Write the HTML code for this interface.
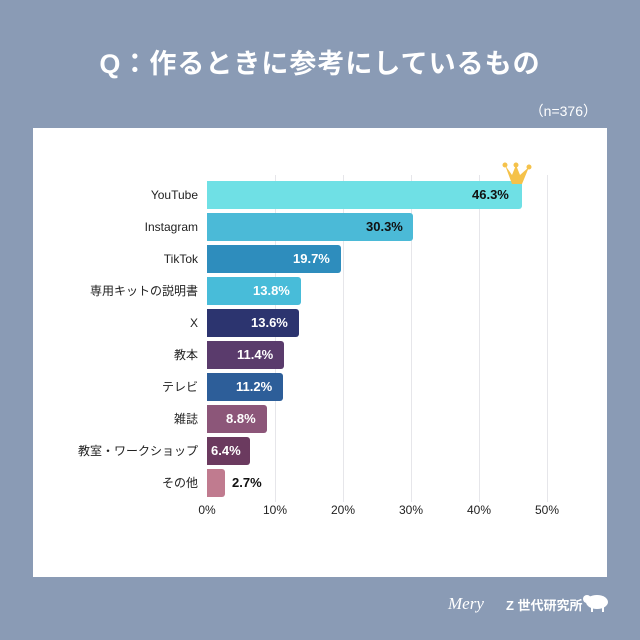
<!DOCTYPE html>
<html><head><meta charset="utf-8"><style>
body{margin:0;width:640px;height:640px;background:#8a9bb5;position:relative;overflow:hidden;font-family:"Liberation Sans","Noto Sans CJK JP",sans-serif}
.t{position:absolute;left:0;width:640px;text-align:center;top:42px;color:#fff;font-size:27px;font-weight:bold;letter-spacing:1px}
.n{position:absolute;right:43px;top:101px;color:#fff;font-size:14px}
.p{position:absolute;left:33px;top:128px;width:574px;height:449px;background:#fff}
.g{position:absolute;top:175px;width:1px;height:327px;background:#e6e6ea}
.b{position:absolute;height:28px;border-radius:0 3px 3px 0}
.l{position:absolute;right:442px;font-size:12px;color:#222;line-height:28px;white-space:nowrap}
.v{position:absolute;font-size:13px;line-height:28px;font-weight:bold}
.x{position:absolute;top:503px;font-size:12px;color:#222;width:40px;text-align:center}
.m{position:absolute;left:448px;top:594px;color:#fff;font-size:17px;font-style:italic;font-family:"Liberation Serif",serif}
.z{position:absolute;left:506px;top:595px;color:#fff;font-size:13px;font-weight:bold}
</style></head><body>
<div class="t">Q：作るときに参考にしているもの</div>
<div class="n">（n=376）</div>
<div class="p"></div>
<div class="g" style="left:275px"></div><div class="g" style="left:343px"></div><div class="g" style="left:411px"></div><div class="g" style="left:479px"></div><div class="g" style="left:547px"></div>
<div class="b" style="left:207px;top:181px;width:315px;background:#6fe0e5"></div>
<div class="b" style="left:207px;top:213px;width:206px;background:#4bbad7"></div>
<div class="b" style="left:207px;top:245px;width:134px;background:#2e8dbd"></div>
<div class="b" style="left:207px;top:277px;width:94px;background:#48bcd9"></div>
<div class="b" style="left:207px;top:309px;width:92px;background:#2c346f"></div>
<div class="b" style="left:207px;top:341px;width:77px;background:#5a3b6c"></div>
<div class="b" style="left:207px;top:373px;width:76px;background:#2d5e99"></div>
<div class="b" style="left:207px;top:405px;width:60px;background:#8c5679"></div>
<div class="b" style="left:207px;top:437px;width:43px;background:#6b3a5f"></div>
<div class="b" style="left:207px;top:469px;width:18px;background:#c07b8f"></div>
<div class="l" style="top:181px">YouTube</div>
<div class="l" style="top:213px">Instagram</div>
<div class="l" style="top:245px">TikTok</div>
<div class="l" style="top:277px">専用キットの説明書</div>
<div class="l" style="top:309px">X</div>
<div class="l" style="top:341px">教本</div>
<div class="l" style="top:373px">テレビ</div>
<div class="l" style="top:405px">雑誌</div>
<div class="l" style="top:437px">教室・ワークショップ</div>
<div class="l" style="top:469px">その他</div>
<div class="v" style="top:181px;left:472px;color:#111">46.3%</div>
<div class="v" style="top:213px;left:366px;color:#111">30.3%</div>
<div class="v" style="top:245px;left:293px;color:#fff">19.7%</div>
<div class="v" style="top:277px;left:253px;color:#fff">13.8%</div>
<div class="v" style="top:309px;left:251px;color:#fff">13.6%</div>
<div class="v" style="top:341px;left:237px;color:#fff">11.4%</div>
<div class="v" style="top:373px;left:236px;color:#fff">11.2%</div>
<div class="v" style="top:405px;left:226px;color:#fff">8.8%</div>
<div class="v" style="top:437px;left:211px;color:#fff">6.4%</div>
<div class="v" style="top:469px;left:232px;color:#111">2.7%</div>
<svg style="position:absolute;left:500px;top:160px" width="34" height="28"><polygon points="5,5 12,15 16,5 20,15 29,7 22,24 12,24" fill="#f5c24a"/><circle cx="5" cy="5" r="2.5" fill="#f5c24a"/><circle cx="16" cy="5" r="2.5" fill="#f5c24a"/><circle cx="29" cy="7" r="2.5" fill="#f5c24a"/></svg>
<div class="x" style="left:187px">0%</div><div class="x" style="left:255px">10%</div><div class="x" style="left:323px">20%</div><div class="x" style="left:391px">30%</div><div class="x" style="left:459px">40%</div><div class="x" style="left:527px">50%</div>
<div class="m">Mery</div>
<div class="z">Z 世代研究所</div>
<svg style="position:absolute;left:582px;top:592px" width="28" height="22"><ellipse cx="15" cy="10" rx="11" ry="7" fill="#fff"/><ellipse cx="5" cy="7" rx="4" ry="4" fill="#fff"/><rect x="9" y="14" width="2" height="6" fill="#fff"/><rect x="20" y="14" width="2" height="6" fill="#fff"/></svg>
</body></html>
